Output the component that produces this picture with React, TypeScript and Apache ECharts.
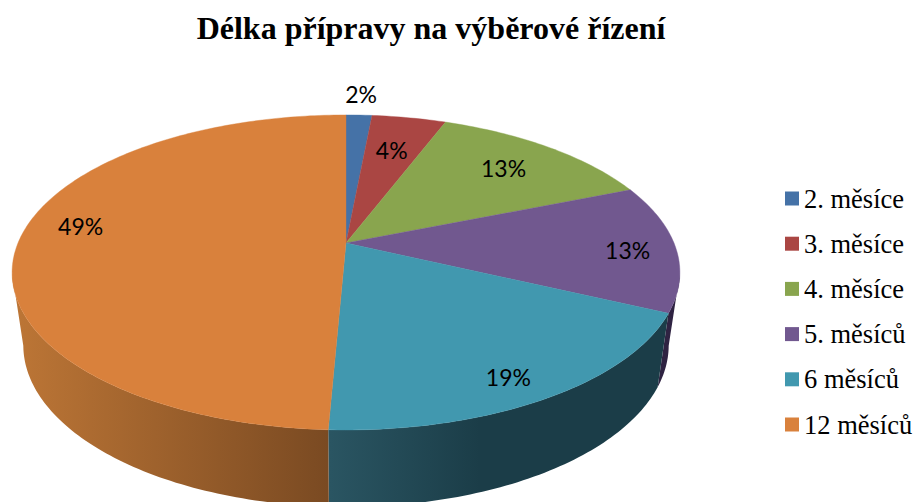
import React, { useEffect, useRef } from "react";
import * as echarts from "echarts";

const TITLE = "Délka přípravy na výběrové řízení";
const categories = ["2. měsíce", "3. měsíce", "4. měsíce", "5. měsíců", "6 měsíců", "12 měsíců"];
const shares = [1.5, 4.3, 13.1, 13.1, 18.7, 49.3];
const topColors = ["#4572a7", "#aa4643", "#89a54e", "#71588f", "#4198af", "#d9813c"];

// Perspective projection of the pie's two rims.
const K = 0.187;
const TOP_RIM = { cx: 346, cy: 243, a: 328, b: 152 };
const LOW_RIM = { cx: 346, cy: 315, a: 317, b: 156 };
// Angles at which the rims reach their outermost x: the wall's silhouette.
const WALL_FROM = 101;
const WALL_TO = 259;
// Label placement: radius factor on the slice's mid angle plus a vertical nudge.
const labelPlace = [
  { r: 1.19, dy: -1 },
  { r: 0.69, dy: -2 },
  { r: 0.755, dy: -1 },
  { r: 0.855, dy: 3 },
  { r: 0.83, dy: 9 },
  { r: 0.812, dy: -14 },
];

function project(rim: typeof TOP_RIM, deg: number, r = 1) {
  const t = (deg * Math.PI) / 180;
  const u = r * Math.sin(t);
  const v = -r * Math.cos(t);
  const w = 1 - K * v;
  return [rim.cx + (rim.a * u) / w, rim.cy + (rim.b * v) / w];
}

function wallFill(index: number) {
  const stops = (x: number, x2: number, c0: string, c1: string) => ({
    type: "linear",
    global: true,
    x,
    y: 0,
    x2,
    y2: 0,
    colorStops: [
      { offset: 0, color: c0 },
      { offset: 1, color: c1 },
    ],
  });
  if (index === 5) return stops(12, 328, "#bd7636", "#7a4a22");
  if (index === 4) return stops(330, 480, "#2a5562", "#1b3d48");
  return "#2f2342";
}

function sliceBounds() {
  let sum = 0;
  const total = shares.reduce((a, b) => a + b, 0);
  return shares.map((s) => {
    const start = (sum / total) * 360;
    sum += s;
    return [start, (sum / total) * 360];
  });
}

function renderTop(index: number) {
  return (_p: any, api: any) => {
    const start = api.value(0);
    const end = api.value(1);
    const pts: number[][] = [[TOP_RIM.cx, TOP_RIM.cy]];
    for (let d = start; d < end; d += 1) pts.push(project(TOP_RIM, d));
    pts.push(project(TOP_RIM, end));
    const place = labelPlace[index];
    const at = project(TOP_RIM, (start + end) / 2, place.r);
    return {
      type: "group",
      children: [
        {
          type: "polygon",
          shape: { points: pts },
          style: { fill: topColors[index], stroke: topColors[index], lineWidth: 0.4 },
        },
        {
          type: "text",
          z2: 10,
          x: at[0],
          y: at[1] + place.dy,
          style: {
            text: `${Math.round(shares[index])}%`,
            fill: "#000",
            font: '23px Lato, "Open Sans", sans-serif',
            align: "center",
            verticalAlign: "middle",
          },
        },
      ],
    };
  };
}

function renderWall(_p: any, api: any) {
  const index = api.value(2);
  const from = Math.max(api.value(0), WALL_FROM);
  const to = Math.min(api.value(1), WALL_TO);
  if (from >= to) return { type: "group", children: [] };
  const upper: number[][] = [];
  const lower: number[][] = [];
  for (let d = from; d < to; d += 1) {
    upper.push(project(TOP_RIM, d));
    lower.unshift(project(LOW_RIM, d));
  }
  upper.push(project(TOP_RIM, to));
  lower.unshift(project(LOW_RIM, to));
  return {
    type: "polygon",
    shape: { points: [...upper, ...lower] },
    style: { fill: wallFill(index) },
  };
}

export default function App() {
  const ref = useRef<HTMLDivElement>(null);
  useEffect(() => {
    document.body.style.margin = "0";
    document.body.style.background = "#fff";
    const chart = echarts.init(ref.current!, undefined, { renderer: "svg" });
    const bounds = sliceBounds();
    chart.setOption({
      animation: false,
      title: {
        text: TITLE,
        left: 426,
        top: 7,
        textAlign: "center",
        textStyle: { fontFamily: "Liberation Serif", fontWeight: "bold", fontSize: 32, color: "#000" },
      },
      legend: {
        data: categories,
        orient: "vertical",
        left: 785,
        top: 185,
        icon: "rect",
        itemWidth: 14,
        itemHeight: 14,
        itemGap: 18.2,
        padding: 0,
        selectedMode: false,
        textStyle: { fontFamily: "Liberation Serif", fontSize: 26.5, color: "#000", lineHeight: 25 },
      },
      series: [
        {
          type: "custom",
          coordinateSystem: "none",
          name: "stěna",
          silent: true,
          z: 2,
          renderItem: renderWall,
          data: bounds.map((b, i) => [b[0], b[1], i]),
        },
        ...categories.map((name, i) => ({
          type: "custom",
          coordinateSystem: "none",
          name,
          silent: true,
          z: 3,
          itemStyle: { color: topColors[i] },
          renderItem: renderTop(i),
          data: [bounds[i]],
        })),
      ],
    });
    return () => chart.dispose();
  }, []);
  return <div ref={ref} style={{ width: 916, height: 502 }} />;
}
